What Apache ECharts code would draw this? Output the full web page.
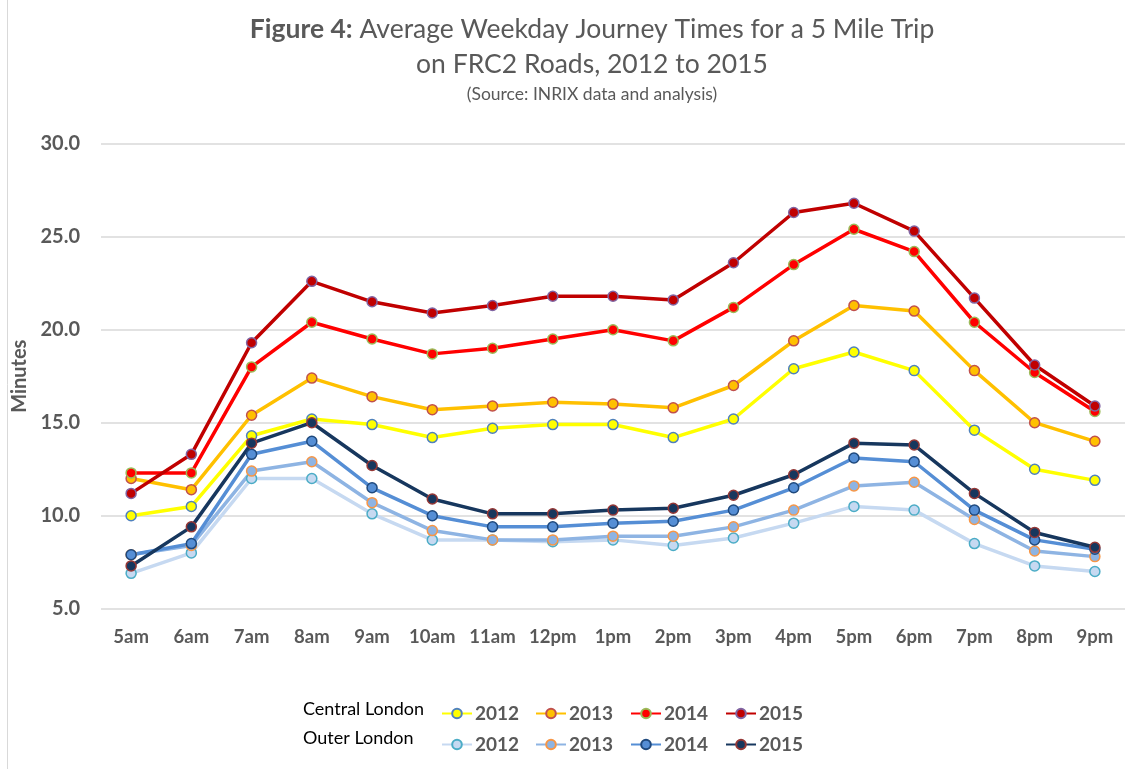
<!DOCTYPE html>
<html>
<head>
<meta charset="utf-8">
<script src="https://cdn.jsdelivr.net/npm/echarts@6/dist/echarts.min.js"></script>
<style>
  html, body { margin: 0; padding: 0; background: #fff; }
  #chart { width: 1125px; height: 769px; }
</style>
</head>
<body>
<div id="chart"></div>
<script>
// Average weekday journey times (minutes)
const hours = ['5am', '6am', '7am', '8am', '9am', '10am', '11am', '12pm', '1pm', '2pm', '3pm', '4pm', '5pm', '6pm', '7pm', '8pm', '9pm'];

const central2012 = [10.0, 10.5, 14.3, 15.2, 14.9, 14.2, 14.7, 14.9, 14.9, 14.2, 15.2, 17.9, 18.8, 17.8, 14.6, 12.5, 11.9];
const central2013 = [12.0, 11.4, 15.4, 17.4, 16.4, 15.7, 15.9, 16.1, 16.0, 15.8, 17.0, 19.4, 21.3, 21.0, 17.8, 15.0, 14.0];
const central2014 = [12.3, 12.3, 18.0, 20.4, 19.5, 18.7, 19.0, 19.5, 20.0, 19.4, 21.2, 23.5, 25.4, 24.2, 20.4, 17.7, 15.6];
const central2015 = [11.2, 13.3, 19.3, 22.6, 21.5, 20.9, 21.3, 21.8, 21.8, 21.6, 23.6, 26.3, 26.8, 25.3, 21.7, 18.1, 15.9];

const outer2012 = [6.9, 8.0, 12.0, 12.0, 10.1, 8.7, 8.7, 8.6, 8.7, 8.4, 8.8, 9.6, 10.5, 10.3, 8.5, 7.3, 7.0];
const outer2013 = [7.9, 8.4, 12.4, 12.9, 10.7, 9.2, 8.7, 8.7, 8.9, 8.9, 9.4, 10.3, 11.6, 11.8, 9.8, 8.1, 7.8];
const outer2014 = [7.9, 8.5, 13.3, 14.0, 11.5, 10.0, 9.4, 9.4, 9.6, 9.7, 10.3, 11.5, 13.1, 12.9, 10.3, 8.7, 8.2];
const outer2015 = [7.3, 9.4, 13.9, 15.0, 12.7, 10.9, 10.1, 10.1, 10.3, 10.4, 11.1, 12.2, 13.9, 13.8, 11.2, 9.1, 8.3];

const font = 'Lato, "Liberation Sans", sans-serif';
const grey = '#595959';

// line colour, marker fill, marker border
const styles = {
    'Central 2012': ['#ffff00', '#ffff00', '#4f81bd'],
    'Central 2013': ['#ffc000', '#ffc000', '#c0504d'],
    'Central 2014': ['#ff0000', '#ff0000', '#9bbb59'],
    'Central 2015': ['#c00000', '#c00000', '#8064a2'],
    'Outer 2012': ['#c6d9f1', '#c6d9f1', '#4bacc6'],
    'Outer 2013': ['#8eb4e3', '#8eb4e3', '#f79646'],
    'Outer 2014': ['#558ed5', '#558ed5', '#1f497d'],
    'Outer 2015': ['#17375e', '#17375e', '#953735']
};

const seriesData = {
    'Central 2012': central2012,
    'Central 2013': central2013,
    'Central 2014': central2014,
    'Central 2015': central2015,
    'Outer 2012': outer2012,
    'Outer 2013': outer2013,
    'Outer 2014': outer2014,
    'Outer 2015': outer2015
};

const chart = echarts.init(document.getElementById('chart'));

const series = Object.keys(seriesData).map(name => ({
    name: name,
    type: 'line',
    data: seriesData[name],
    symbol: 'circle',
    symbolSize: 10,
    lineStyle: { color: styles[name][0], width: 3.5 },
    itemStyle: { color: styles[name][1], borderColor: styles[name][2], borderWidth: 1.5 },
    emphasis: { disabled: true },
    animation: false
}));

// one legend per entry so the columns line up like the original
const legendCols = [436, 530, 625, 720];
const legends = Object.keys(seriesData).map((name, i) => ({
    left: legendCols[i % 4],
    top: i < 4 ? 699 : 730,
    itemWidth: 30,
    itemHeight: 12,
    data: [name],
    formatter: n => n.split(' ')[1],
    textStyle: { fontFamily: font, fontSize: 19, fontWeight: 'bold', color: grey, padding: [0, 0, 0, -2] }
}));

const option = {
    backgroundColor: '#fff',
    title: [{
        left: 587,
        textAlign: 'center',
        top: 7,
        text: '{b|Figure 4:} Average Weekday Journey Times for a 5 Mile Trip\non FRC2 Roads, 2012 to 2015',
        textStyle: {
            fontFamily: font, fontSize: 26.5, fontWeight: 'normal', color: grey, lineHeight: 35,
            rich: { b: { fontFamily: font, fontSize: 26.5, fontWeight: 'bold', color: grey, lineHeight: 35 } }
        }
    }, {
        left: 587,
        textAlign: 'center',
        top: 80,
        text: '(Source: INRIX data and analysis)',
        textStyle: { fontFamily: font, fontSize: 17.5, fontWeight: 'normal', color: grey }
    }],
    grid: { left: 101, right: 0, top: 143.7, bottom: 160.3, containLabel: false },
    xAxis: {
        type: 'category',
        data: hours,
        boundaryGap: true,
        axisLine: { show: false },
        axisTick: { show: false },
        axisLabel: { interval: 0, fontFamily: font, fontSize: 18.5, fontWeight: 'bold', color: grey, margin: 19 }
    },
    yAxis: {
        type: 'value',
        min: 5,
        max: 30,
        interval: 5,
        name: 'Minutes',
        nameLocation: 'middle',
        nameGap: 66,
        nameTextStyle: { fontFamily: font, fontSize: 20, fontWeight: 'bold', color: grey },
        axisLine: { show: false },
        axisTick: { show: false },
        axisLabel: { fontFamily: font, fontSize: 20, fontWeight: 'bold', color: grey, margin: 21, formatter: v => v.toFixed(1) },
        splitLine: { lineStyle: { color: '#d9d9d9', width: 1.5 } }
    },
    legend: legends,
    graphic: [
        { type: 'text', left: 303, top: 700, style: { text: 'Central London', fontFamily: font, fontSize: 18, fill: '#000' } },
        { type: 'text', left: 303, top: 729, style: { text: 'Outer London', fontFamily: font, fontSize: 18, fill: '#000' } },
        { type: 'line', shape: { x1: 7.5, y1: 0, x2: 7.5, y2: 769 }, style: { stroke: '#d9d9d9', lineWidth: 1 } }
    ],
    series: series
};

chart.setOption(option);
</script>
</body>
</html>
